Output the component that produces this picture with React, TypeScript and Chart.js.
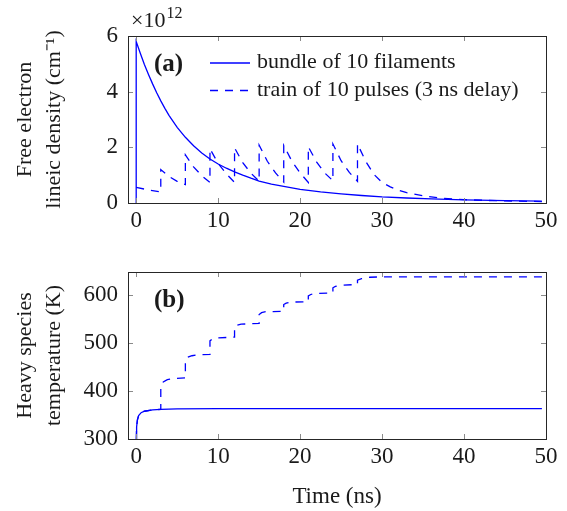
import React, { useEffect, useRef } from 'react';
import { Chart, registerables } from 'chart.js';

Chart.register(...registerables);

const FONT = '"Liberation Serif", "Times New Roman", serif';
const BLUE = '#0000ff';
const TEXT = '#1a1a1a';

// ---- tick labels ----
const xTicks = [0, 10, 20, 30, 40, 50];
const densityTicks = [0, 2, 4, 6];
const tempTicks = [300, 400, 500, 600];

// ---- series names ----
const seriesLabels = ['bundle of 10 filaments', 'train of 10 pulses (3 ns delay)'];

// ---- (a) free electron lineic density, in units of 10^12 cm^-1 ----
const densBundleT = [0, 0, 0.5, 1, 1.5, 2, 2.5, 3, 3.5, 4, 5, 6, 7, 8, 9, 10, 11, 12, 13, 14, 15, 16.5, 18, 20, 22.5, 25, 27.5, 30, 33, 36, 40, 45, 49.5];
const densBundleV = [0, 5.8, 5.38, 4.98, 4.62, 4.28, 3.96, 3.67, 3.4, 3.15, 2.72, 2.36, 2.06, 1.8, 1.58, 1.4, 1.25, 1.12, 1.0, 0.89, 0.79, 0.68, 0.6, 0.49, 0.4, 0.33, 0.27, 0.22, 0.18, 0.145, 0.115, 0.085, 0.065];

const densTrainT = [0, 1.5, 3, 3, 4, 5, 6, 6, 7, 8, 9, 9, 10, 11, 12, 12, 13, 14, 15, 15, 16, 17, 18, 18, 19, 20, 21, 21, 22, 23, 24, 24, 25, 26, 27, 27, 28, 29, 30, 31, 32, 33, 35, 37, 40, 43, 46, 49.5];
const densTrainV = [0.56, 0.47, 0.4, 1.2, 0.95, 0.78, 0.66, 1.73, 1.3, 0.98, 0.74, 1.95, 1.42, 1.05, 0.74, 1.98, 1.45, 1.07, 0.78, 2.08, 1.5, 1.08, 0.75, 2.07, 1.5, 1.08, 0.74, 2.02, 1.48, 1.08, 0.8, 2.12, 1.52, 1.1, 0.78, 2.12, 1.5, 1.03, 0.74, 0.58, 0.46, 0.37, 0.26, 0.18, 0.12, 0.09, 0.07, 0.05];

// ---- (b) heavy species temperature, K ----
const tempBundleT = [0, 0.05, 0.15, 0.3, 0.6, 1, 2, 3, 5, 10, 49.5];
const tempBundleV = [300, 325, 340, 349, 355, 358, 361, 362, 363, 363.4, 363.4];

const tempTrainT = [0, 0.05, 0.15, 0.3, 0.6, 1, 2, 3, 3, 3.3, 3.8, 4.5, 6, 6, 6.3, 6.8, 7.5, 9, 9, 9.3, 9.8, 12, 12, 12.3, 12.8, 15, 15, 15.3, 15.8, 18, 18, 18.3, 18.8, 21, 21, 21.3, 21.8, 24, 24, 24.3, 24.8, 27, 27, 27.5, 28.5, 30, 49.5];
const tempTrainV = [300, 325, 340, 349, 355, 358, 361, 362, 410, 419, 424, 426, 428, 466, 471, 474, 476, 477, 505, 509, 511, 513, 535, 538, 540, 541.5, 560, 564, 566, 567, 581, 584, 586, 587, 599, 602, 604, 605.5, 616, 619, 621, 623, 632, 635, 638, 639, 639];

const xRange = { min: -1, max: 50 };
const densRange = { min: 0, max: 6 };
const tempRange = { min: 300, max: 649 };

const zip = (xs: number[], ys: number[]) => xs.map((x, i) => ({ x, y: ys[i] }));

const overlayPlugin = {
  id: 'overlay',
  afterDraw(chart: any, _args: any, opts: any) {
    const { ctx, chartArea: a, scales } = chart;
    ctx.save();
    // inside ticks on all four sides
    ctx.strokeStyle = '#8a8a8a';
    ctx.lineWidth = 1;
    ctx.setLineDash([]);
    const L = 5;
    const seg = (x1: number, y1: number, x2: number, y2: number) => {
      ctx.beginPath();
      ctx.moveTo(x1, y1);
      ctx.lineTo(x2, y2);
      ctx.stroke();
    };
    for (const t of scales.x.ticks) {
      const px = Math.round(scales.x.getPixelForValue(t.value)) + 0.5;
      seg(px, a.bottom, px, a.bottom - L);
      seg(px, a.top, px, a.top + L);
    }
    for (const t of scales.y.ticks) {
      const py = Math.round(scales.y.getPixelForValue(t.value)) + 0.5;
      seg(a.left, py, a.left + L, py);
      seg(a.right, py, a.right - L, py);
    }
    // frame
    ctx.strokeStyle = '#262626';
    ctx.strokeRect(Math.round(a.left) + 0.5, Math.round(a.top) + 0.5, Math.round(a.right - a.left), Math.round(a.bottom - a.top));

    ctx.fillStyle = TEXT;
    // panel label
    if (opts.panel) {
      ctx.font = `bold 25px ${FONT}`;
      ctx.textBaseline = 'middle';
      ctx.textAlign = 'left';
      ctx.fillText(opts.panel, a.left + 26, a.top + 29);
    }
    // legend
    if (opts.legend) {
      ctx.font = `22px ${FONT}`;
      ctx.textBaseline = 'middle';
      ctx.textAlign = 'left';
      chart.data.datasets.forEach((ds: any, i: number) => {
        const y = a.top + 26.5 + i * 27.5;
        ctx.strokeStyle = ds.borderColor;
        ctx.lineWidth = ds.borderWidth;
        ctx.setLineDash(ds.borderDash || []);
        seg(a.left + 82, y + 0.5, a.left + 122, y + 0.5);
        ctx.setLineDash([]);
        ctx.fillStyle = TEXT;
        ctx.fillText(ds.label, a.left + 129, y);
      });
    }
    // exponent
    if (opts.exponent) {
      ctx.textBaseline = 'alphabetic';
      ctx.textAlign = 'left';
      ctx.font = `22px ${FONT}`;
      const base = '×10';
      ctx.fillText(base, a.left + 3, a.top - 9);
      const w = ctx.measureText(base).width;
      ctx.font = `16px ${FONT}`;
      ctx.fillText(opts.exponent, a.left + 3 + w + 1, a.top - 18);
    }
    ctx.restore();
  },
};

function makeConfig(p: {
  datasets: any[];
  yRange: { min: number; max: number };
  yTicks: number[];
  yTitle: string[];
  xTitle?: string;
  xHeight: number;
  padTop: number;
  overlay: any;
}) {
  return {
    type: 'line' as const,
    data: { datasets: p.datasets },
    options: {
      responsive: false,
      animation: false as const,
      devicePixelRatio: 1,
      layout: { padding: { left: 0, right: 21, top: p.padTop, bottom: 0 } },
      elements: { point: { radius: 0 }, line: { tension: 0 } },
      plugins: {
        legend: { display: false },
        tooltip: { enabled: false },
        overlay: p.overlay,
      },
      scales: {
        x: {
          type: 'linear' as const,
          min: xRange.min,
          max: xRange.max,
          grid: { display: false, drawTicks: false },
          border: { display: false },
          afterBuildTicks: (s: any) => {
            s.ticks = xTicks.map((v) => ({ value: v }));
          },
          afterFit: (s: any) => {
            s.height = p.xHeight;
          },
          ticks: { color: TEXT, font: { family: FONT, size: 23 }, padding: 4, maxRotation: 0 },
          title: p.xTitle
            ? { display: true, text: p.xTitle, color: TEXT, font: { family: FONT, size: 23 }, padding: { top: 0, bottom: 0 } }
            : { display: false },
        },
        y: {
          type: 'linear' as const,
          min: p.yRange.min,
          max: p.yRange.max,
          grid: { display: false, drawTicks: false },
          border: { display: false },
          afterBuildTicks: (s: any) => {
            s.ticks = p.yTicks.map((v) => ({ value: v }));
          },
          afterFit: (s: any) => {
            s.width = 128;
          },
          ticks: { color: TEXT, font: { family: FONT, size: 23 }, padding: 10 },
          title: {
            display: true,
            text: p.yTitle,
            color: TEXT,
            font: { family: FONT, size: 22, lineHeight: 1.32 },
            padding: { top: 11, bottom: 0 },
          },
        },
      },
    },
    plugins: [overlayPlugin],
  };
}

export default function App() {
  const topRef = useRef<HTMLCanvasElement | null>(null);
  const botRef = useRef<HTMLCanvasElement | null>(null);

  useEffect(() => {
    const top = new Chart(
      topRef.current as HTMLCanvasElement,
      makeConfig({
        datasets: [
          { label: seriesLabels[0], data: zip(densBundleT, densBundleV), borderColor: BLUE, borderWidth: 1.3, fill: false },
          { label: seriesLabels[1], data: zip(densTrainT, densTrainV), borderColor: BLUE, borderWidth: 1.3, borderDash: [8, 7], fill: false },
        ],
        yRange: densRange,
        yTicks: densityTicks,
        yTitle: ['Free electron', 'lineic density (cm⁻¹)'],
        xHeight: 37,
        padTop: 36,
        overlay: { panel: '(a)', legend: true, exponent: '12' },
      }) as any
    );
    const bot = new Chart(
      botRef.current as HTMLCanvasElement,
      makeConfig({
        datasets: [
          { label: seriesLabels[0], data: zip(tempBundleT, tempBundleV), borderColor: BLUE, borderWidth: 1.3, fill: false },
          { label: seriesLabels[1], data: zip(tempTrainT, tempTrainV), borderColor: BLUE, borderWidth: 1.3, borderDash: [8, 7], fill: false },
        ],
        yRange: tempRange,
        yTicks: tempTicks,
        yTitle: ['Heavy species', 'temperature (K)'],
        xTitle: 'Time (ns)',
        xHeight: 72,
        padTop: 32,
        overlay: { panel: '(b)', legend: false },
      }) as any
    );
    return () => {
      top.destroy();
      bot.destroy();
    };
  }, []);

  return (
    <div style={{ position: 'absolute', left: 0, top: 0, width: 567, height: 511, background: '#fff' }}>
      <canvas ref={topRef} width={567} height={240} style={{ position: 'absolute', left: 0, top: 0, display: 'block' }} />
      <canvas ref={botRef} width={567} height={271} style={{ position: 'absolute', left: 0, top: 240, display: 'block' }} />
    </div>
  );
}
